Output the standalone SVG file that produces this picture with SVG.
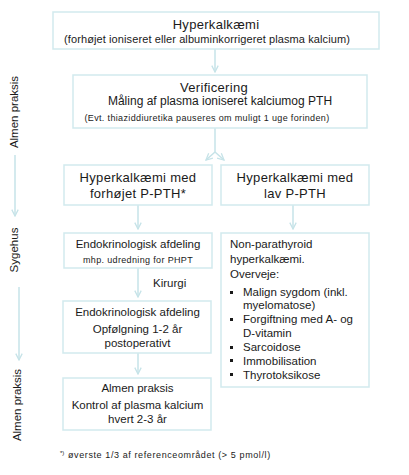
<svg xmlns="http://www.w3.org/2000/svg" width="409" height="475" viewBox="0 0 409 475">
<style>
.box{fill:#fff;stroke:#d2eaee;stroke-width:1.5}
.ln{fill:none;stroke:#c6e3e8;stroke-width:1.5}
text{font-family:"Liberation Sans",Arial,sans-serif;fill:#1a1a1a}
.c{text-anchor:middle}
.t13{font-size:13px;letter-spacing:0.3px}
.t12{font-size:11.5px}
.t11{font-size:11px;letter-spacing:0.1px}
.t9{font-size:9px;letter-spacing:0.35px}
</style>
<defs>
<marker id="ah" viewBox="0 0 10 10" refX="9" refY="5" markerWidth="8" markerHeight="8" markerUnits="userSpaceOnUse" orient="auto">
<path d="M1,1 L9,5 L1,9" fill="none" stroke="#c6e3e8" stroke-width="1.6"/>
</marker>
</defs>
<rect width="409" height="475" fill="#fff"/>

<g id="axis">
<text class="t12 c" transform="translate(18,112) rotate(-90)">Almen praksis</text>
<line class="ln" x1="15" y1="155" x2="15" y2="216" marker-end="url(#ah)"/>
<text class="t12 c" transform="translate(18,250) rotate(-90)">Sygehus</text>
<line class="ln" x1="19" y1="287" x2="19" y2="360" marker-end="url(#ah)"/>
<text class="t12 c" transform="translate(21,405) rotate(-90)">Almen praksis</text>
</g>

<g id="connectors">
<line class="ln" x1="215" y1="49" x2="215" y2="72" marker-end="url(#ah)"/>
<line class="ln" x1="215" y1="128" x2="215" y2="152"/>
<line class="ln" x1="215" y1="152" x2="206" y2="160" marker-end="url(#ah)"/>
<line class="ln" x1="215" y1="152" x2="224" y2="160" marker-end="url(#ah)"/>
<line class="ln" x1="138" y1="205" x2="138" y2="229" marker-end="url(#ah)"/>
<line class="ln" x1="293" y1="205" x2="293" y2="229" marker-end="url(#ah)"/>
<line class="ln" x1="138" y1="268" x2="138" y2="297" marker-end="url(#ah)"/>
<text class="t12" x="153" y="287">Kirurgi</text>
<line class="ln" x1="138" y1="353" x2="138" y2="374" marker-end="url(#ah)"/>
</g>

<g id="n1">
<rect class="box" x="53" y="12" width="326" height="37"/>
<text class="t13 c" x="216" y="29">Hyperkalkæmi</text>
<text class="t11 c" x="207" y="43">(forhøjet ioniseret eller albuminkorrigeret plasma kalcium)</text>
</g>

<g id="n2">
<rect class="box" x="73" y="75" width="294" height="53"/>
<text class="t13 c" x="214" y="92">Verificering</text>
<text class="c" x="220" y="105" style="font-size:12px">Måling af plasma ioniseret kalciumog PTH</text>
<text class="t9 c" x="207" y="121">(Evt. thiaziddiuretika pauseres om muligt 1 uge forinden)</text>
</g>

<g id="n3">
<rect class="box" x="64" y="165" width="148" height="40"/>
<text class="t13 c" x="138" y="182">Hyperkalkæmi med</text>
<text class="t13 c" x="138" y="198">forhøjet P-PTH*</text>
</g>

<g id="n4">
<rect class="box" x="221" y="165" width="148" height="40"/>
<text class="t13 c" x="295" y="182">Hyperkalkæmi med</text>
<text class="t13 c" x="295" y="198">lav P-PTH</text>
</g>

<g id="n5">
<rect class="box" x="64" y="233" width="148" height="35"/>
<text class="t12 c" x="138" y="248">Endokrinologisk afdeling</text>
<text class="t9 c" x="138" y="263">mhp. udredning for PHPT</text>
</g>

<g id="n6">
<rect class="box" x="221" y="233" width="148" height="154"/>
<text class="t12" x="230" y="248">Non-parathyroid</text>
<text class="t12" x="230" y="263">hyperkalkæmi.</text>
<text class="t12" x="230" y="278">Overveje:</text>
<g fill="#1a1a1a">
<rect x="230" y="291" width="3" height="3"/>
<rect x="230" y="318" width="3" height="3"/>
<rect x="230" y="346" width="3" height="3"/>
<rect x="230" y="359" width="3" height="3"/>
<rect x="230" y="373" width="3" height="3"/>
</g>
<text class="t12" x="243" y="296">Malign sygdom (inkl.</text>
<text class="t12" x="243" y="309">myelomatose)</text>
<text class="t12" x="243" y="323">Forgiftning med A- og</text>
<text class="t12" x="243" y="337">D-vitamin</text>
<text class="t12" x="243" y="351">Sarcoidose</text>
<text class="t12" x="243" y="365">Immobilisation</text>
<text class="t12" x="243" y="379">Thyrotoksikose</text>
</g>

<g id="n7">
<rect class="box" x="63" y="301" width="148" height="52"/>
<text class="t12 c" x="137.5" y="316">Endokrinologisk afdeling</text>
<text class="t12 c" x="137.5" y="333">Opfølgning 1-2 år</text>
<text class="t12 c" x="137.5" y="347">postoperativt</text>
</g>

<g id="n8">
<rect class="box" x="63" y="378" width="148" height="52"/>
<text class="t12 c" x="137.5" y="392">Almen praksis</text>
<text class="t12 c" x="137.5" y="409">Kontrol af plasma kalcium</text>
<text class="t12 c" x="137.5" y="423">hvert 2-3 år</text>
</g>

<g id="footnote">
<text x="60" y="455" style="font-size:6px">*)</text>
<text class="t9" x="68" y="458" style="letter-spacing:0.6px">øverste 1/3 af referenceområdet (&gt; 5 pmol/l)</text>
</g>
</svg>
